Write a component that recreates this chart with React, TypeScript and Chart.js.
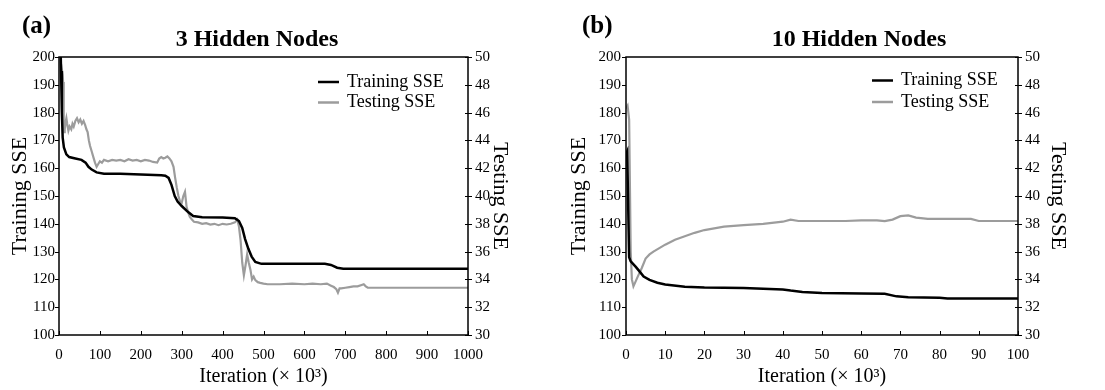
import React, { useEffect, useRef } from "react";
import { Chart, registerables } from "chart.js";

Chart.register(...registerables);

// ---------- Data ----------
const SERIES_NAMES = ["Training SSE", "Testing SSE"];
const PANEL_LABELS = ["(a)", "(b)"];
const PANEL_TITLES = ["3 Hidden Nodes", "10 Hidden Nodes"];
const X_TITLE = "Iteration (\u00d7 10\u00b3)";
const Y_LEFT_TITLE = "Training SSE";
const Y_RIGHT_TITLE = "Testing SSE";

// x-axis ranges (×10^3 iterations)
const X_MAX = [1000, 100];
const X_STEP = [100, 10];
// left (training) and right (testing) axis ranges: [min, max, step]
const TRAIN_AXIS = [100, 200, 10];
const TEST_AXIS = [30, 50, 2];

// Panel (a): 3 hidden nodes
const A_TRAIN_X = [3, 5, 7, 9, 12, 18, 25, 40, 55, 65, 72, 80, 92, 110, 150, 200, 250, 260, 268, 275, 283, 290, 300, 315, 328, 350, 400, 430, 440, 448, 455, 463, 471, 480, 495, 550, 600, 650, 665, 680, 695, 750, 1000];
const A_TRAIN_Y = [210, 195, 180, 171, 167.5, 165, 164, 163.5, 163, 162, 160.5, 159.5, 158.5, 158, 158, 157.7, 157.5, 157.3, 156.5, 154, 150, 148, 146.4, 144.3, 142.8, 142.4, 142.3, 142, 141, 138.5, 134.5, 131, 128.2, 126.3, 125.6, 125.6, 125.6, 125.6, 125.2, 124.2, 123.8, 123.8, 123.8];

const A_TEST_X = [5, 9, 10, 11, 12, 13, 14, 16, 18, 20, 23, 26, 30, 33, 36, 40, 44, 48, 52, 56, 60, 64, 67, 70, 73, 76, 80, 84, 88, 92, 96, 100, 105, 110, 120, 130, 140, 150, 160, 170, 180, 190, 200, 210, 220, 230, 240, 245, 250, 255, 260, 265, 270, 275, 280, 284, 288, 292, 296, 300, 304, 308, 312, 316, 320, 325, 330, 340, 350, 360, 370, 380, 390, 400, 410, 420, 430, 436, 440, 444, 448, 452, 456, 460, 464, 468, 472, 476, 480, 486, 492, 500, 510, 540, 570, 600, 620, 640, 655, 665, 672, 678, 682, 686, 690, 700, 710, 720, 730, 740, 745, 750, 755, 760, 800, 900, 1000];
const A_TEST_Y = [49.5, 48.7, 48.2, 46.5, 45.2, 44.6, 44.8, 45.3, 45.6, 45.2, 44.7, 45.0, 44.8, 45.2, 45.0, 45.4, 45.6, 45.3, 45.5, 45.2, 45.4, 45.1, 44.8, 44.6, 44.0, 43.6, 43.2, 42.8, 42.4, 42.1, 42.3, 42.5, 42.4, 42.6, 42.5, 42.6, 42.55, 42.6, 42.5, 42.65, 42.55, 42.6, 42.5, 42.6, 42.55, 42.45, 42.4, 42.7, 42.8, 42.7, 42.75, 42.85, 42.7, 42.5, 42.1, 41.3, 40.6, 40.0, 39.6, 39.5, 40.0, 40.3, 39.2, 38.8, 38.5, 38.3, 38.15, 38.1, 38.0, 38.05, 37.95, 38.0, 37.9, 38.0, 37.95, 38.0, 38.1, 38.3, 37.8, 36.8, 35.2, 34.3, 35.0, 35.8, 35.2, 34.7, 34.0, 34.2, 33.95, 33.8, 33.75, 33.7, 33.65, 33.65, 33.7, 33.65, 33.7, 33.65, 33.7, 33.55, 33.45, 33.3, 33.05, 33.35, 33.35, 33.4, 33.45, 33.5, 33.5, 33.6, 33.65, 33.5, 33.4, 33.4, 33.4, 33.4, 33.4];

// Panel (b): 10 hidden nodes
const B_TRAIN_X = [0, 0.3, 0.8, 1.2, 2.5, 3.5, 4.5, 6, 8, 10, 15, 20, 30, 35, 40, 42, 45, 50, 60, 66, 69, 72, 80, 82, 100];
const B_TRAIN_Y = [165, 166, 128, 126.5, 124.5, 122.8, 121, 119.8, 118.8, 118.2, 117.4, 117.1, 116.9, 116.6, 116.4, 116, 115.5, 115.1, 114.9, 114.8, 113.9, 113.6, 113.4, 113.1, 113.1];

const B_TEST_X = [0, 0.4, 0.8, 1.2, 1.5, 1.9, 3, 4, 5, 6, 7, 10, 12.5, 15, 17.5, 20, 25, 30, 35, 40, 42, 44, 50, 56, 60, 64, 66, 68, 70, 72, 74, 77, 88, 90, 100];
const B_TEST_Y = [46.3, 46.5, 45.5, 36, 34, 33.5, 34.2, 34.8, 35.5, 35.8, 36, 36.5, 36.85, 37.1, 37.35, 37.55, 37.8, 37.9, 38.0, 38.15, 38.3, 38.2, 38.2, 38.2, 38.25, 38.25, 38.2, 38.3, 38.55, 38.6, 38.45, 38.35, 38.35, 38.2, 38.2];

// ---------- Styling / layout ----------
const FONT = "'Liberation Serif', 'Times New Roman', serif";
const COLORS = ["#000000", "#9c9c9c"];

type PanelCfg = {
  idx: number;
  left: number;
  width: number;
  leftW: number;
  rightW: number;
  leftPad: number;
  leftTitlePad: number;
  rightTitlePad: number;
  titleX: number;
  legendX: number;
  legendY: number[];
  trainX: number[];
  trainY: number[];
  testX: number[];
  testY: number[];
};

const PANELS: PanelCfg[] = [
  {
    idx: 0, left: 0, width: 550, leftW: 59, rightW: 82, leftPad: 4,
    leftTitlePad: 7, rightTitlePad: 37, titleX: 257, legendX: 318, legendY: [82, 102.5],
    trainX: A_TRAIN_X, trainY: A_TRAIN_Y, testX: A_TEST_X, testY: A_TEST_Y,
  },
  {
    idx: 1, left: 550, width: 555, leftW: 76, rightW: 87, leftPad: 5,
    leftTitlePad: 16, rightTitlePad: 34, titleX: 309, legendX: 322, legendY: [80.5, 102],
    trainX: B_TRAIN_X, trainY: B_TRAIN_Y, testX: B_TEST_X, testY: B_TEST_Y,
  },
];

const decorPlugin = {
  id: "decor",
  afterDraw(chart: any, _args: any, opts: any) {
    const { ctx, chartArea: ca, scales } = chart;
    ctx.save();
    ctx.strokeStyle = "#000";
    ctx.lineWidth = 1.5;
    ctx.strokeRect(ca.left, ca.top, ca.right - ca.left, ca.bottom - ca.top);
    ctx.lineWidth = 1;
    const seg = (x1: number, y1: number, x2: number, y2: number) => {
      ctx.beginPath();
      ctx.moveTo(x1, y1);
      ctx.lineTo(x2, y2);
      ctx.stroke();
    };
    scales.y.ticks.forEach((t: any) => {
      const py = Math.round(scales.y.getPixelForValue(t.value)) + 0.5;
      seg(ca.left - 4, py, ca.left, py);
    });
    scales.y1.ticks.forEach((t: any) => {
      const py = Math.round(scales.y1.getPixelForValue(t.value)) + 0.5;
      seg(ca.right - 3, py, ca.right + 4, py);
    });
    scales.x.ticks.forEach((t: any) => {
      const px = Math.round(scales.x.getPixelForValue(t.value)) + 0.5;
      seg(px, ca.bottom, px, ca.bottom - 4);
    });
    // title
    ctx.fillStyle = "#000";
    ctx.font = `bold 24px ${FONT}`;
    ctx.textAlign = "center";
    ctx.textBaseline = "middle";
    ctx.fillText(opts.title, opts.titleX, 40);
    // legend
    ctx.font = `18px ${FONT}`;
    ctx.textAlign = "left";
    chart.data.datasets.forEach((ds: any, i: number) => {
      const y = opts.legendY[i];
      ctx.strokeStyle = ds.borderColor;
      ctx.lineWidth = 2.5;
      seg(opts.legendX, y, opts.legendX + 21, y);
      ctx.fillStyle = "#000";
      ctx.fillText(ds.label, opts.legendX + 29, y);
    });
    ctx.restore();
  },
};

const plainNumber = (v: any) => String(v);

function Panel({ cfg }: { cfg: PanelCfg }) {
  const ref = useRef<HTMLCanvasElement>(null);
  useEffect(() => {
    if (!ref.current) return;
    const tickFont = { family: FONT, size: 15 };
    const chart = new Chart(ref.current, {
      type: "line",
      data: {
        datasets: [
          {
            label: SERIES_NAMES[0],
            data: cfg.trainX.map((x, i) => ({ x, y: cfg.trainY[i] })),
            yAxisID: "y",
            borderColor: COLORS[0],
            borderWidth: 2.5,
            pointRadius: 0,
            tension: 0,
          },
          {
            label: SERIES_NAMES[1],
            data: cfg.testX.map((x, i) => ({ x, y: cfg.testY[i] })),
            yAxisID: "y1",
            borderColor: COLORS[1],
            borderWidth: 2.2,
            pointRadius: 0,
            tension: 0,
          },
        ],
      },
      options: {
        responsive: false,
        animation: false,
        events: [],
        layout: { padding: { top: 57, left: 0, right: 0, bottom: 0 } },
        plugins: {
          legend: { display: false },
          tooltip: { enabled: false },
          title: { display: false },
          decor: {
            title: PANEL_TITLES[cfg.idx],
            titleX: cfg.titleX,
            legendX: cfg.legendX,
            legendY: cfg.legendY,
          },
        } as any,
        scales: {
          x: {
            type: "linear",
            min: 0,
            max: X_MAX[cfg.idx],
            grid: { display: false, drawTicks: false },
            border: { display: false },
            ticks: {
              stepSize: X_STEP[cfg.idx],
              autoSkip: false,
              maxRotation: 0,
              padding: 11,
              font: tickFont,
              color: "#000",
              callback: plainNumber,
            },
            title: {
              display: true,
              text: X_TITLE,
              color: "#000",
              font: { family: FONT, size: 20 },
              padding: { top: 0, bottom: 1 },
            },
            afterFit: (s: any) => {
              s.height = 55;
            },
          },
          y: {
            type: "linear",
            position: "left",
            min: TRAIN_AXIS[0],
            max: TRAIN_AXIS[1],
            grid: { display: false, drawTicks: false },
            border: { display: false },
            ticks: {
              stepSize: TRAIN_AXIS[2],
              padding: cfg.leftPad,
              font: tickFont,
              color: "#000",
              callback: plainNumber,
            },
            title: {
              display: true,
              text: Y_LEFT_TITLE,
              color: "#000",
              font: { family: FONT, size: 22 },
              padding: { top: cfg.leftTitlePad, bottom: 0 },
            },
            afterFit: (s: any) => {
              s.width = cfg.leftW;
            },
          },
          y1: {
            type: "linear",
            position: "right",
            min: TEST_AXIS[0],
            max: TEST_AXIS[1],
            grid: { display: false, drawTicks: false },
            border: { display: false },
            ticks: {
              stepSize: TEST_AXIS[2],
              padding: 7,
              font: tickFont,
              color: "#000",
              callback: plainNumber,
            },
            title: {
              display: true,
              text: Y_RIGHT_TITLE,
              color: "#000",
              font: { family: FONT, size: 22 },
              padding: { top: cfg.rightTitlePad, bottom: 0 },
            },
            afterFit: (s: any) => {
              s.width = cfg.rightW;
            },
          },
        },
      } as any,
      plugins: [decorPlugin],
    });
    return () => chart.destroy();
  }, [cfg]);

  return (
    <>
      <canvas
        ref={ref}
        width={cfg.width}
        height={390}
        style={{ position: "absolute", left: cfg.left, top: 0, width: cfg.width, height: 390 }}
      />
      <div
        style={{
          position: "absolute",
          left: cfg.left + (cfg.idx === 0 ? 22 : 32),
          top: 12,
          font: `bold 25px ${FONT}`,
          lineHeight: "25px",
          color: "#000",
        }}
      >
        {PANEL_LABELS[cfg.idx]}
      </div>
    </>
  );
}

export default function App() {
  return (
    <div
      style={{
        position: "fixed",
        left: 0,
        top: 0,
        width: 1105,
        height: 390,
        background: "#fff",
        overflow: "hidden",
      }}
    >
      {PANELS.map((p) => (
        <Panel key={p.idx} cfg={p} />
      ))}
    </div>
  );
}
